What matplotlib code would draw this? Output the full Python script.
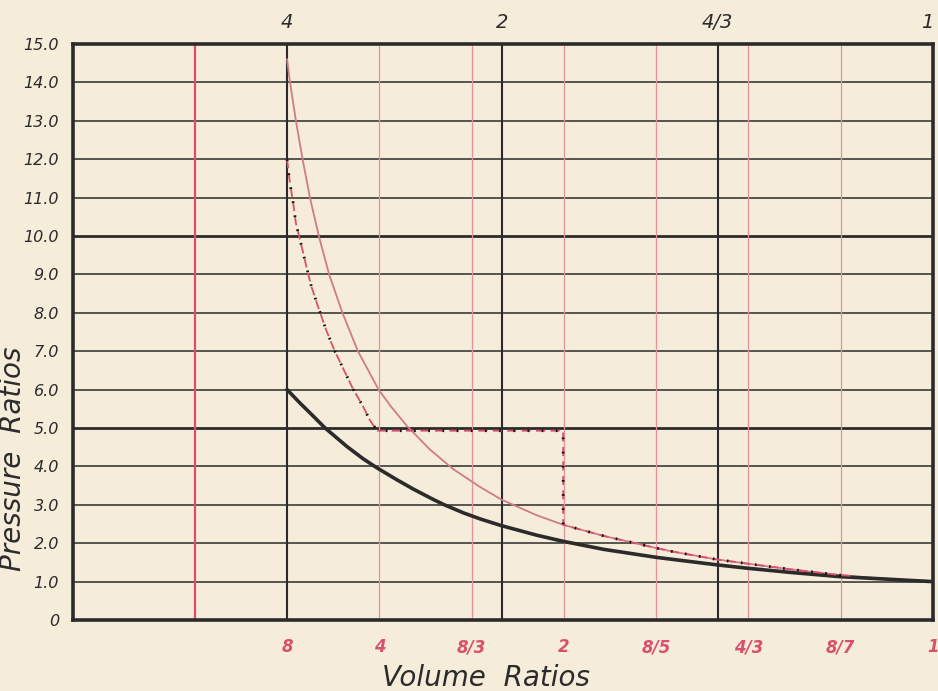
import matplotlib
matplotlib.use("Agg")
import matplotlib.pyplot as plt

# x positions are inverse volume ratio (1/v) on the lower (red) scale
bottom_ticks = [0.125, 0.25, 0.375, 0.5, 0.625, 0.75, 0.875, 1.0]
bottom_labels = ["8", "4", "8/3", "2", "8/5", "4/3", "8/7", "1"]
top_ticks = [0.125, 0.4167, 0.7083, 1.0]
top_labels = ["4", "2", "4/3", "1"]
red_rules = [0.0, 0.25, 0.375, 0.5, 0.625, 0.75, 0.875]
y_ticks = list(range(0, 16))
y_labels = ["0"] + ["%d.0" % v for v in range(1, 16)]

# pink curve, compression from 8 volumes
pink_x = [0.125, 0.129, 0.137, 0.146, 0.156, 0.168, 0.182, 0.200, 0.221, 0.249,
          0.265, 0.287, 0.318, 0.350, 0.386, 0.415, 0.463, 0.499, 0.554, 0.626,
          0.648, 0.706, 0.748, 0.807, 0.874, 0.919, 1.000]
pink_p = [14.6, 14.0, 13.0, 12.0, 11.0, 10.0, 9.0, 8.0, 7.0, 6.0,
          5.58, 5.06, 4.45, 3.93, 3.47, 3.14, 2.73, 2.48, 2.19, 1.87,
          1.78, 1.58, 1.47, 1.32, 1.17, 1.10, 1.00]

# heavy black curve, compression from 4 volumes (upper scale)
black_x = [0.125, 0.143, 0.161, 0.176, 0.206, 0.228, 0.247, 0.274, 0.296, 0.323,
           0.337, 0.364, 0.387, 0.415, 0.463, 0.499, 0.554, 0.626, 0.706, 0.748,
           0.807, 0.874, 0.942, 1.000]
black_p = [6.00, 5.64, 5.30, 5.01, 4.52, 4.20, 3.96, 3.65, 3.41, 3.14,
           3.01, 2.79, 2.63, 2.46, 2.21, 2.05, 1.84, 1.63, 1.44, 1.35,
           1.24, 1.13, 1.06, 1.00]

# dash-dot line: steep part, constant 5.0 stretch, drop, then along pink curve
dash_x = [0.125, 0.127, 0.129, 0.133, 0.137, 0.144, 0.151, 0.158, 0.167, 0.178,
          0.189, 0.202, 0.214, 0.228, 0.237, 0.247, 0.499, 0.499, 0.554, 0.626,
          0.648, 0.706, 0.748, 0.807, 0.874, 0.890]
dash_p = [12.0, 11.67, 11.37, 10.9, 10.33, 9.79, 9.22, 8.68, 8.16, 7.55,
          7.03, 6.51, 6.03, 5.56, 5.21, 4.93, 4.93, 2.48, 2.19, 1.87,
          1.78, 1.58, 1.47, 1.32, 1.17, 1.15]

paper = "#f5ecd9"
ink = "#2b2b2b"
red = "#d9506e"
pale_red = "#e3929f"

fig = plt.figure(figsize=(9.38, 6.91), dpi=100, facecolor=paper)
ax = fig.add_axes([0.0778, 0.1027, 0.9169, 0.8336])
ax.set_facecolor(paper)
ax.set_xlim(-0.165, 1.0)
ax.set_ylim(0, 15)

# grid paper
for y in y_ticks[1:-1]:
    ax.axhline(y, color=ink, lw=2.0 if y % 5 == 0 else 1.1, zorder=1)
for i, x in enumerate(red_rules):
    ax.axvline(x, color=red if i == 0 else pale_red, lw=1.6 if i == 0 else 0.9, zorder=1)
for x in top_ticks[:-1]:
    ax.axvline(x, color=ink, lw=1.5, zorder=2)

ax.plot(pink_x, pink_p, color="#cf7b8a", lw=1.3, zorder=3)
ax.plot(black_x, black_p, color=ink, lw=2.6, zorder=4, solid_joinstyle="round")
ax.plot(dash_x, dash_p, color=red, lw=1.3, linestyle=(0, (5, 3)), zorder=5)
ax.plot(dash_x, dash_p, color="#111111", lw=2.0, linestyle=(0, (0.6, 4.5)), zorder=6)

for s in ax.spines.values():
    s.set_linewidth(2.6)
    s.set_color(ink)

font = dict(family="DejaVu Sans", style="italic")
ax.set_yticks(y_ticks)
ax.set_yticklabels(y_labels, fontsize=11.5, color=ink, **font)
ax.tick_params(axis="y", length=0, pad=10)

ax.set_xticks(bottom_ticks)
ax.set_xticklabels(bottom_labels, fontsize=12, color=red, fontweight="bold", **font)
ax.tick_params(axis="x", length=0, pad=13)

top = ax.secondary_xaxis("top")
top.set_xticks(top_ticks)
top.set_xticklabels(top_labels, fontsize=14, color=ink, **font)
top.tick_params(length=0, pad=9)
top.spines["top"].set_visible(False)
top.get_xticklabels()[-1].set_horizontalalignment("right")

ax.set_xlabel("Volume  Ratios", fontsize=20, color=ink, **font)
ax.xaxis.set_label_coords(0.480, -0.077)
ax.set_ylabel("Pressure  Ratios", fontsize=20, color=ink, **font)
ax.yaxis.set_label_coords(-0.053, 0.28)

fig.savefig("out.png", dpi=100, facecolor=paper)
